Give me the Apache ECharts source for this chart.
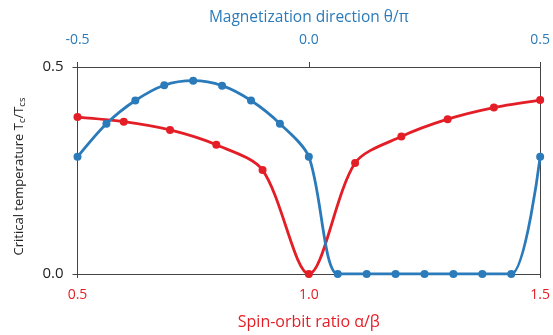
<!DOCTYPE html>
<html>
<head>
<meta charset="utf-8">
<script src="https://cdn.jsdelivr.net/npm/echarts@6/dist/echarts.min.js"></script>
<style>
html,body{margin:0;padding:0;background:#fff;}
#chart{width:553px;height:335px;}
</style>
</head>
<body>
<div id="chart"></div>
<script>
// Bottom axis: spin-orbit ratio alpha/beta (red series)
const redX = [0.5, 0.6, 0.7, 0.8, 0.9, 1.0, 1.1, 1.2, 1.3, 1.4, 1.5];
const redY = [0.379, 0.368, 0.348, 0.312, 0.251, 0.0, 0.268, 0.332, 0.374, 0.402, 0.420];
// Top axis: magnetization direction theta/pi (blue series)
const blueX = [-0.5, -0.4375, -0.375, -0.3125, -0.25, -0.1875, -0.125, -0.0625, 0.0,
               0.0625, 0.125, 0.1875, 0.25, 0.3125, 0.375, 0.4375, 0.5];
const blueY = [0.283, 0.363, 0.419, 0.456, 0.467, 0.455, 0.419, 0.363, 0.283,
               0.0, 0.0, 0.0, 0.0, 0.0, 0.0, 0.0, 0.283];
const bottomTicks = [0.5, 1.0, 1.5];
const topTicks = [-0.5, 0.0, 0.5];
const yTicks = [0.0, 0.5];

const RED = '#e41e26';
const BLUE = '#2b7bba';
const FONT = 'Open Sans';

const chart = echarts.init(document.getElementById('chart'), null, {renderer: 'canvas'});
const zip = (xs, ys) => xs.map((x, i) => [x, ys[i]]);

chart.setOption({
  animation: false,
  textStyle: {fontFamily: FONT},
  grid: {left: 77.5, right: 10, top: 67, bottom: 61},
  xAxis: [
    {
      type: 'value', position: 'bottom',
      min: bottomTicks[0], max: bottomTicks[bottomTicks.length - 1], interval: 0.5,
      name: 'Spin-orbit ratio α/β', nameLocation: 'middle', nameGap: 40,
      nameTextStyle: {color: RED, fontSize: 16, fontFamily: FONT},
      axisLine: {show: true, onZero: false, lineStyle: {color: '#444', width: 1}},
      axisTick: {show: true, length: 4, lineStyle: {color: '#444'}},
      axisLabel: {color: RED, fontSize: 14, margin: 14, fontFamily: FONT,
                  formatter: v => v.toFixed(1)},
      splitLine: {show: false}
    },
    {
      type: 'value', position: 'top',
      min: topTicks[0], max: topTicks[topTicks.length - 1], interval: 0.5,
      name: 'Magnetization direction θ/π', nameLocation: 'middle', nameGap: 41,
      nameTextStyle: {color: BLUE, fontSize: 15.5, fontFamily: FONT},
      axisLine: {show: true, onZero: false, lineStyle: {color: '#444', width: 1}},
      axisTick: {show: true, length: 5, lineStyle: {color: '#444'}},
      axisLabel: {color: BLUE, fontSize: 14, margin: 20, fontFamily: FONT,
                  formatter: v => v.toFixed(1)},
      splitLine: {show: false}
    }
  ],
  yAxis: [
    {
      type: 'value', position: 'left',
      min: yTicks[0], max: yTicks[yTicks.length - 1], interval: 0.5,
      name: 'Critical temperature T{s|c}/T{s|cs}', nameLocation: 'middle', nameGap: 50,
      nameTextStyle: {
        color: '#222', fontSize: 13, fontFamily: FONT, padding: [0, 12, 0, 0],
        rich: {s: {fontSize: 9.5, color: '#222', fontFamily: FONT, padding: [6, 0, 0, 0]}}
      },
      axisLine: {show: true, onZero: false, lineStyle: {color: '#444', width: 1}},
      axisTick: {show: true, length: 5, lineStyle: {color: '#444'}},
      axisLabel: {color: '#222', fontSize: 15, margin: 14, fontFamily: FONT,
                  formatter: v => v.toFixed(1)},
      splitLine: {show: false}
    },
    {
      type: 'value', position: 'right',
      min: yTicks[0], max: yTicks[yTicks.length - 1], interval: 0.5,
      axisLine: {show: true, onZero: false, lineStyle: {color: '#444', width: 1}},
      axisTick: {show: false},
      axisLabel: {show: false},
      splitLine: {show: false}
    }
  ],
  series: [
    {
      type: 'line', xAxisIndex: 0, yAxisIndex: 0,
      data: zip(redX, redY), smooth: 0.3,
      symbol: 'circle', symbolSize: 8,
      lineStyle: {color: RED, width: 2.8},
      itemStyle: {color: RED}
    },
    {
      type: 'line', xAxisIndex: 1, yAxisIndex: 0,
      data: zip(blueX, blueY), smooth: 0.3,
      symbol: 'circle', symbolSize: 8,
      lineStyle: {color: BLUE, width: 2.8},
      itemStyle: {color: BLUE}
    }
  ]
});
</script>
</body>
</html>
